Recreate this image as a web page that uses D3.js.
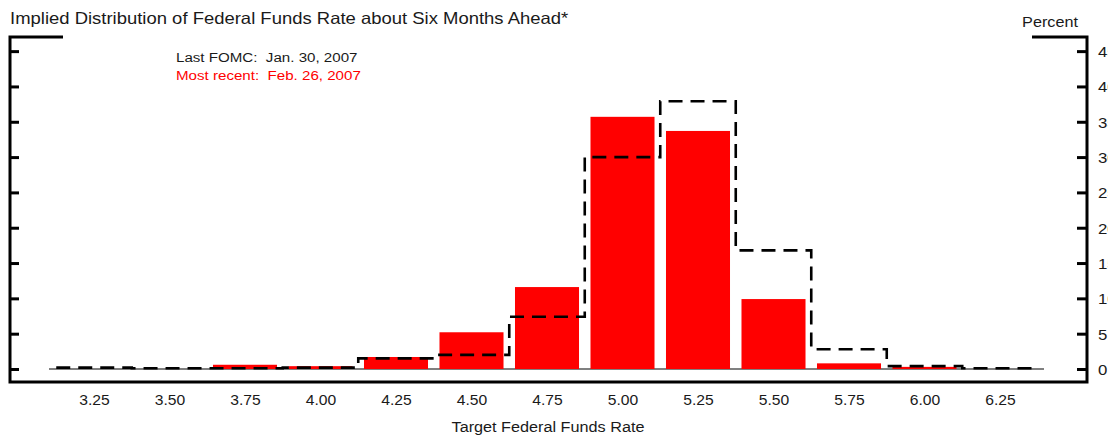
<!DOCTYPE html>
<html><head><meta charset="utf-8">
<script src="https://cdn.jsdelivr.net/npm/d3@7"></script>
<style>
html,body{margin:0;padding:0;background:#fff;overflow:hidden;}
text{font-family:"Liberation Sans",Arial,sans-serif;fill:#1a1a1a;white-space:pre;}
</style></head>
<body>
<svg id="c" width="1108" height="438"></svg>
<script>
const rates = [3.25,3.50,3.75,4.00,4.25,4.50,4.75,5.00,5.25,5.50,5.75,6.00,6.25];
const rateLabels = ["3.25","3.50","3.75","4.00","4.25","4.50","4.75","5.00","5.25","5.50","5.75","6.00","6.25"];
const mostRecent = [0,0,0.6,0.4,1.7,5.2,11.6,35.7,33.7,9.9,0.8,0.3,0];
const lastFOMC   = [0.2,0.1,0.1,0.2,1.5,2.0,7.4,30.0,37.9,16.8,2.8,0.4,0.1];
const yTicks = [0,5,10,15,20,25,30,35,40,45];
const title = "Implied Distribution of Federal Funds Rate about Six Months Ahead*";
const xTitle = "Target Federal Funds Rate";
const unitLabel = "Percent";
const legendLast = "Last FOMC:  Jan. 30, 2007";
const legendRecent = "Most recent:  Feb. 26, 2007";

const SX = 1.12; // horizontal stretch of the reference's type
const svg = d3.select("#c");
const x = d3.scaleLinear().domain([3.25, 6.25]).range([94, 1000]);
const y = d3.scaleLinear().domain([0, 47]).range([369, 37]);
const bw = x(3.25 + 0.212) - x(3.25);

function label(px, py, txt, size, anchor, color) {
  return svg.append("text")
    .attr("transform", `translate(${px},${py}) scale(${SX},1)`)
    .attr("text-anchor", anchor || "start")
    .attr("font-size", size)
    .style("fill", color || "#1a1a1a")
    .text(txt);
}

label(10, 24, title, 16.5);
label(1078, 27, unitLabel, 14.5, "end");
label(176, 62, legendLast, 13.5);
label(176, 80, legendRecent, 13.5, "start", "#ff0000");

// baseline
svg.append("line").attr("x1",49).attr("x2",1044).attr("y1",y(0)).attr("y2",y(0))
  .attr("stroke","#808080").attr("stroke-width",2);

// bars
svg.append("g").selectAll("rect").data(rates.map((r,i)=>({r,v:mostRecent[i]})).filter(d=>d.v>0))
  .join("rect")
  .attr("x",d=>x(d.r)-bw/2).attr("width",bw)
  .attr("y",d=>y(d.v)).attr("height",d=>y(0)-y(d.v))
  .attr("fill","#ff0000");

// step line
const pts = rates.map((r,i)=>[r-0.125, lastFOMC[i]]);
pts.push([rates[rates.length-1]+0.125, lastFOMC[lastFOMC.length-1]]);
const line = d3.line().x(d=>x(d[0])).y(d=>y(d[1])).curve(d3.curveStepAfter);
svg.append("path").attr("d",line(pts)).attr("fill","none")
  .attr("stroke","#000").attr("stroke-width",2.6).attr("stroke-dasharray","14,8");

// frame
const frame = svg.append("g").attr("stroke","#000").attr("stroke-width",3).attr("fill","none");
frame.append("path").attr("d",`M63,${y(47)}H10V382H1087V${y(47)}H1032`);

// left ticks
const yAxisL = d3.axisRight(y).tickValues(yTicks).tickSize(9).tickFormat("");
const gl = svg.append("g").attr("transform","translate(10,0)").call(yAxisL);
gl.select(".domain").remove();
gl.selectAll(".tick line").attr("stroke","#000").attr("stroke-width",3);

// right ticks and labels (cut by the picture's edge, as in the reference)
const yAxisR = d3.axisLeft(y).tickValues(yTicks).tickSize(10).tickFormat("");
const gr = svg.append("g").attr("transform","translate(1087,0)").call(yAxisR);
gr.select(".domain").remove();
gr.selectAll(".tick line").attr("stroke","#000").attr("stroke-width",3);
yTicks.forEach(v => label(1098, y(v) + 6, String(v), 15));

// x tick labels
const xAxis = d3.axisBottom(x).tickValues(rates).tickSize(0).tickFormat((d,i)=>rateLabels[i]);
const gx = svg.append("g").attr("transform","translate(0,405)").call(xAxis);
gx.select(".domain").remove();
gx.selectAll("text").attr("y",0).attr("dy",0)
  .attr("transform",`scale(${SX},1)`)
  .attr("font-size",14).attr("font-family","Liberation Sans, Arial, sans-serif").style("fill","#1a1a1a");

label(548, 432, xTitle, 14.5, "middle");
</script>
</body></html>
